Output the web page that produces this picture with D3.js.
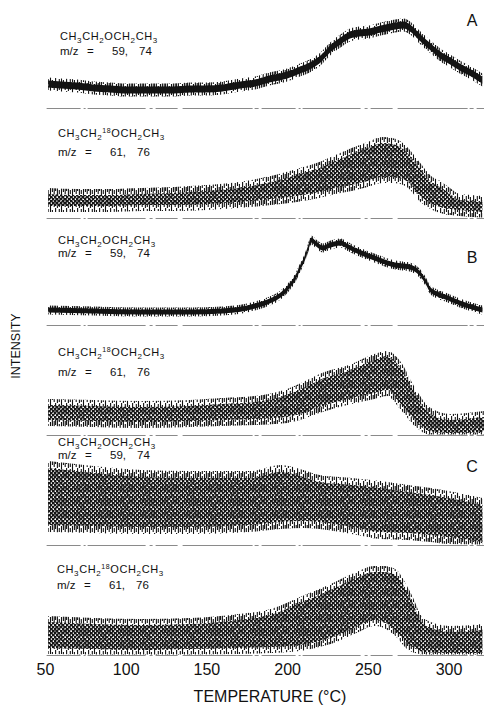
<!DOCTYPE html>
<html>
<head>
<meta charset="utf-8">
<script src="https://cdn.jsdelivr.net/npm/d3@7"></script>
<style>
  body { margin: 0; background: #fff; }
  svg { display: block; }
  text { font-family: "Liberation Sans", Arial, sans-serif; fill: #111; }
</style>
</head>
<body>
<svg id="chart" width="486" height="706"></svg>
<script>
// Temperature axis
const xTicks = [50, 100, 150, 200, 250, 300];

// Panel A, unlabelled ether (m/z 59, 74): signal envelope (arb. units)
const tA1 = [52, 60, 70, 80, 90, 100, 110, 120, 130, 140, 150, 160, 171, 180, 189, 200, 208, 214, 220, 228, 234, 239, 245, 251, 258, 264, 272, 277, 282, 289, 295, 301, 307, 314, 321];
const midA1 = [24, 23, 22, 20, 19, 18, 18, 18, 18, 19, 19, 20, 23, 25, 29, 33, 38, 42, 48, 61, 68, 73, 75, 76, 79, 81, 83, 79, 71, 61, 53, 47, 41, 35, 28];

// Panel A, 18O-labelled ether (m/z 61, 76)
const tA2 = [52, 70, 90, 110, 130, 150, 170, 190, 210, 220, 230, 240, 250, 259, 265, 270, 275, 282, 290, 295, 300, 307, 314, 321];
const loA2 = [12, 12, 12, 13, 13, 14, 16, 19, 23, 26, 30, 33, 37, 41, 41, 40, 36, 23, 14, 11, 9, 8, 7, 6];
const hiA2 = [24, 23, 23, 24, 25, 27, 30, 36, 45, 50, 57, 64, 70, 75, 74, 71, 64, 50, 35, 31, 25, 18, 17, 16];

// Panel B, unlabelled ether
const tB1 = [52, 80, 110, 140, 160, 175, 186, 196, 201, 205, 208, 211, 213, 215, 218, 222, 227, 233, 237, 242, 254, 267, 276, 282, 286, 288, 293, 298, 307, 321];
const midB1 = [15, 14, 13, 13, 14, 17, 22, 30, 38, 47, 57, 67, 77, 85, 81, 77, 80, 82, 79, 75, 67, 60, 58, 52, 43, 37, 31, 28, 22, 15];

// Panel B, 18O-labelled ether
const tB2 = [52, 80, 110, 140, 160, 180, 200, 210, 220, 240, 254, 262, 270, 279, 288, 301, 322];
const loB2 = [15, 14, 13, 14, 15, 16, 18, 22, 28, 37, 42, 45, 32, 15, 4, 2, 3];
const hiB2 = [30, 29, 28, 29, 31, 33, 40, 47, 55, 65, 75, 78, 68, 42, 22, 15, 18];

// Panel C, unlabelled ether
const tC1 = [52, 80, 110, 140, 177, 196, 210, 220, 240, 258, 275, 289, 300, 321];
const loC1 = [20, 19, 18, 18, 20, 23, 24, 23, 18, 13, 12, 10, 8, 3];
const hiC1 = [77, 72, 68, 67, 67, 73, 68, 63, 60, 57, 53, 50, 47, 40];

// Panel C, 18O-labelled ether
const tC2 = [52, 80, 110, 140, 170, 190, 208, 220, 227, 243, 254, 260, 267, 276, 285, 301, 321];
const loC2 = [7, 6, 5, 6, 7, 8, 10, 14, 17, 28, 35, 33, 25, 10, 3, 2, 2];
const hiC2 = [33, 31, 30, 31, 35, 40, 52, 60, 65, 77, 83, 83, 80, 58, 30, 23, 25];

// Trace labels
const formulas = ["plain", "labelled", "plain", "labelled", "plain", "labelled"];
const massPairs = [["59,", "74"], ["61,", "76"], ["59,", "74"], ["61,", "76"], ["59,", "74"], ["61,", "76"]];
const panelLetters = ["A", "", "B", "", "C", ""];

const svg = d3.select("#chart");

const x = d3.scaleLinear().domain([50, 322]).range([45, 484]);

// Layout of the six stacked traces
const baselines = [108, 218, 325, 435, 545, 655];
const labelX = [60, 58, 58, 58, 58, 57];
const labelY = [[40, 55], [137, 156], [244, 257], [356, 376], [446, 459], [573, 589]];
const letterY = [26, 0, 263, 0, 472, 0];

const defs = svg.append("defs");

// Halftone texture of the recorded noise band
const dots = defs.append("pattern").attr("id", "halftone")
  .attr("patternUnits", "userSpaceOnUse").attr("width", 4).attr("height", 4);
dots.append("rect").attr("width", 4).attr("height", 4).attr("fill", "#161616");
dots.append("rect").attr("x", 0.3).attr("y", 0.3).attr("width", 1.7).attr("height", 1.7).attr("fill", "#fff");
dots.append("rect").attr("x", 2.3).attr("y", 2.3).attr("width", 1.7).attr("height", 1.7).attr("fill", "#fff");

// Vertical spikes on the fringe of the noise band
const spikes = defs.append("pattern").attr("id", "spikes")
  .attr("patternUnits", "userSpaceOnUse").attr("width", 11).attr("height", 13);
[[0.6, 0, 9], [2.4, 4, 13], [4.3, 1, 6], [4.3, 8, 12], [6.5, 0, 4], [6.5, 6, 13], [8.4, 2, 10], [10.2, 5, 12]]
  .forEach(([lx, a, b]) => spikes.append("line")
    .attr("x1", lx).attr("x2", lx).attr("y1", a).attr("y2", b)
    .attr("stroke", "#111").attr("stroke-width", 1.1));

function rows(t, lo, hi) { return t.map((v, i) => ({ t: v, lo: lo[i], hi: hi[i] })); }

const traces = [
  { data: rows(tA1, midA1.map(v => v - 3.5), midA1.map(v => v + 3.5)), fill: "#141414", fringe: 3 },
  { data: rows(tA2, loA2, hiA2), fill: "url(#halftone)", fringe: 6 },
  { data: rows(tB1, midB1.map(v => v - 2.5), midB1.map(v => v + 2.5)), fill: "#141414", fringe: 2 },
  { data: rows(tB2, loB2, hiB2), fill: "url(#halftone)", fringe: 6 },
  { data: rows(tC1, loC1, hiC1), fill: "url(#halftone)", fringe: 7 },
  { data: rows(tC2, loC2, hiC2), fill: "url(#halftone)", fringe: 6 }
];

traces.forEach((tr, i) => {
  const base = baselines[i];
  const y = d3.scaleLinear().domain([0, 100]).range([base, base - 100]);
  const g = svg.append("g");

  // zero line
  g.append("line")
    .attr("x1", x(51)).attr("x2", x(322)).attr("y1", base + 0.5).attr("y2", base + 0.5)
    .attr("stroke", "#8a8a8a").attr("stroke-width", 1)
    .attr("stroke-dasharray", "34,3,2,2,58,4,3,3,22,5,70,2,4,3");

  const fringe = d3.area().curve(d3.curveMonotoneX)
    .x(d => x(d.t)).y0(d => y(Math.max(0.5, d.lo - tr.fringe))).y1(d => y(d.hi + tr.fringe));
  g.append("path").attr("d", fringe(tr.data)).attr("fill", "url(#spikes)");

  const core = d3.area().curve(d3.curveMonotoneX)
    .x(d => x(d.t)).y0(d => y(d.lo)).y1(d => y(d.hi));
  g.append("path").attr("d", core(tr.data)).attr("fill", tr.fill);
  // vertical noise strokes running through the band
  g.append("path").attr("d", core(tr.data)).attr("fill", "url(#spikes)").attr("opacity", 0.7);

  // species formula
  const lab = svg.append("text").attr("x", labelX[i]).attr("y", labelY[i][0])
    .attr("font-size", 11).attr("letter-spacing", 0.6);
  const sub = (s) => lab.append("tspan").attr("font-size", 8).attr("dy", 3).text(s);
  const up = () => lab.append("tspan").attr("dy", -3);
  lab.append("tspan").text("CH"); sub("3"); up().text("CH"); sub("2");
  if (formulas[i] === "labelled") {
    lab.append("tspan").attr("font-size", 7).attr("dy", -7).text("18");
    lab.append("tspan").attr("dy", 4).text("OCH");
  } else {
    up().text("OCH");
  }
  sub("2"); up().text("CH"); sub("3");

  // mass line
  const mz = svg.append("text").attr("y", labelY[i][1]).attr("font-size", 11.5);
  mz.append("tspan").attr("x", labelX[i]).text("m/z");
  mz.append("tspan").attr("x", labelX[i] + 27).text("=");
  mz.append("tspan").attr("x", labelX[i] + 52).text(massPairs[i][0]);
  mz.append("tspan").attr("x", labelX[i] + 79).text(massPairs[i][1]);

  if (panelLetters[i]) {
    svg.append("text").attr("x", 472).attr("y", letterY[i]).attr("text-anchor", "middle")
      .attr("font-size", 16).text(panelLetters[i]);
  }
});

// Temperature axis
const axis = svg.append("g").attr("transform", "translate(0,655)")
  .call(d3.axisBottom(x).tickValues(xTicks).tickSize(0).tickPadding(9));
axis.select(".domain").remove();
axis.selectAll("text").attr("font-size", 16).attr("fill", "#111")
  .attr("font-family", "'Liberation Sans', Arial, sans-serif");

svg.append("text").attr("x", 270).attr("y", 702).attr("text-anchor", "middle")
  .attr("font-size", 16).text("TEMPERATURE (°C)");

svg.append("text").attr("transform", "translate(20,346) rotate(-90)")
  .attr("text-anchor", "middle").attr("font-size", 12.5).text("INTENSITY");
</script>
</body>
</html>
